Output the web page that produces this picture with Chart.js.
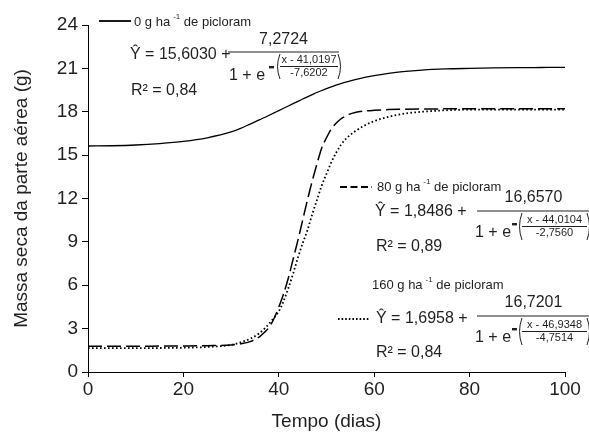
<!DOCTYPE html>
<html>
<head>
<meta charset="utf-8">
<script src="https://cdn.jsdelivr.net/npm/chart.js@4/dist/chart.umd.min.js"></script>
<style>
html,body{margin:0;padding:0;background:#fff;}
canvas{display:block;}
</style>
</head>
<body>
<canvas id="c" width="589" height="432"></canvas>
<script>
// ---- data ----
const days = [0,5,10,15,20,25,30,32,34,36,37,38,39,40,41,42,43,44,45,46,47,48,49,50,51,52,53,54,55,56,58,60,63,66,70,75,80,85,91,95,100];
const mass0 = [15.63,15.65,15.70,15.80,15.95,16.20,16.60,16.85,17.15,17.45,17.60,17.76,17.92,18.08,18.24,18.40,18.56,18.72,18.88,19.03,19.18,19.33,19.47,19.60,19.72,19.84,19.95,20.05,20.14,20.22,20.37,20.50,20.65,20.77,20.88,20.96,21.00,21.03,21.05,21.06,21.07];
const mass80 = [1.78,1.78,1.78,1.79,1.80,1.82,1.87,1.95,2.10,2.45,2.75,3.10,3.70,4.50,5.40,6.50,7.80,9.10,10.50,11.90,13.20,14.40,15.50,16.20,16.80,17.20,17.50,17.70,17.85,17.95,18.05,18.10,18.15,18.17,18.19,18.20,18.20,18.20,18.20,18.20,18.20];
const mass160 = [1.65,1.65,1.65,1.66,1.68,1.73,1.88,2.05,2.30,2.70,3.00,3.35,3.75,4.20,4.90,5.80,6.80,7.90,8.90,9.80,10.90,11.90,12.90,13.70,14.50,15.15,15.70,16.10,16.40,16.65,17.05,17.35,17.65,17.85,18.00,18.10,18.15,18.15,18.15,18.15,18.15];
const xTicks = [0,20,40,60,80,100];
const yTicks = [0,3,6,9,12,15,18,21,24];
const seriesNames = ['0 g ha', '80 g ha', '160 g ha'];
const eqConst = ['15,6030','1,8486','1,6958'];
const eqNum = ['7,2724','16,6570','16,7201'];
const eqXc = ['x - 41,0197','x - 44,0104','x - 46,9348'];
const eqB = ['-7,6202','-2,7560','-4,7514'];
const eqR2 = ['0,84','0,89','0,84'];

const FONT = '"Liberation Sans", Arial, sans-serif';
const INK = '#231f20';

function pts(ys){ return days.map((d,i)=>({x:d,y:ys[i]})); }

const styles = [
  {dash: [], width: 1.3},
  {dash: [14,5], width: 1.5},
  {dash: [1.6,2.4], width: 1.8}
];

const bgPlugin = {
  id: 'bg',
  beforeDraw(chart){
    const c = chart.ctx; c.save(); c.fillStyle = '#fff';
    c.fillRect(0,0,chart.width,chart.height); c.restore();
  }
};

function txt(c, s, x, y, size, align){
  c.font = size + 'px ' + FONT;
  c.textAlign = align || 'left';
  c.textBaseline = 'middle';
  c.fillText(s, x, y);
  return c.measureText(s).width;
}

function drawLabel(c, i, x, y){
  let w = txt(c, seriesNames[i], x, y, 13);
  txt(c, '-1', x + w + 3, y - 5, 8);
  c.font = '8px ' + FONT;
  const w2 = c.measureText('-1').width;
  txt(c, ' de picloram', x + w + 3 + w2, y, 13);
}

function drawSample(c, i, x1, x2, y){
  c.save();
  c.strokeStyle = '#000';
  c.lineWidth = 1.8;
  c.setLineDash(i === 0 ? [] : (i === 1 ? [7,3.5] : [1.6,2.0]));
  c.beginPath(); c.moveTo(x1, y); c.lineTo(x2, y); c.stroke();
  c.restore();
}

function drawEq(c, i, L){
  txt(c, '\u0176 = ' + eqConst[i] + ' +', L.yx, L.yy, 16);
  const mid = (L.barL + L.barR) / 2;
  txt(c, eqNum[i], mid, L.numY, 16, 'center');
  c.save();
  c.strokeStyle = INK; c.lineWidth = 1;
  c.beginPath(); c.moveTo(L.barL, L.barY); c.lineTo(L.barR, L.barY); c.stroke();
  c.restore();
  txt(c, '1 + e', L.denX, L.denY, 16);
  c.fillRect(L.minusX, L.minusY, 5, 2.4);
  c.save();
  c.strokeStyle = INK; c.lineWidth = 1;
  const pm = (L.parT + L.parB) / 2;
  c.beginPath(); c.moveTo(L.parL + 4, L.parT); c.quadraticCurveTo(L.parL - 1, pm, L.parL + 4, L.parB); c.stroke();
  c.beginPath(); c.moveTo(L.parR - 4, L.parT); c.quadraticCurveTo(L.parR + 1, pm, L.parR - 4, L.parB); c.stroke();
  const im = (L.parL + L.parR) / 2;
  c.beginPath(); c.moveTo(L.parL + 4, L.innerBarY); c.lineTo(L.parR - 4, L.innerBarY); c.stroke();
  c.restore();
  txt(c, eqXc[i], im, L.innerY1, 11, 'center');
  txt(c, eqB[i], im, L.innerY2, 11, 'center');
  txt(c, 'R\u00b2 = ' + eqR2[i], L.r2x, L.r2y, 16);
}

const annotPlugin = {
  id: 'annot',
  afterDraw(chart){
    const c = chart.ctx;
    c.save();
    c.fillStyle = INK;
    drawSample(c, 0, 99, 131, 21);
    drawLabel(c, 0, 134, 22);
    drawEq(c, 0, {yx:130, yy:55, barL:228, barR:339, barY:52, numY:40, denX:229, denY:76,
      minusX:269, minusY:66, parL:276, parR:342, parT:54, parB:79, innerY1:60, innerBarY:66.5, innerY2:72.5, r2x:131, r2y:91});
    drawSample(c, 1, 340, 372, 187);
    drawLabel(c, 1, 377, 187);
    drawEq(c, 1, {yx:375, yy:212, barL:477, barR:590, barY:211, numY:198, denX:475, denY:233,
      minusX:512, minusY:223, parL:518, parR:591, parT:213, parB:240, innerY1:220, innerBarY:226.5, innerY2:233, r2x:376, r2y:247});
    drawLabel(c, 2, 372, 285);
    drawSample(c, 2, 338, 370, 319);
    drawEq(c, 2, {yx:376, yy:319, barL:477, barR:590, barY:316, numY:303, denX:475, denY:338,
      minusX:512, minusY:328, parL:518, parR:591, parT:318, parB:345, innerY1:325, innerBarY:331.5, innerY2:338, r2x:376, r2y:353});
    c.restore();
  }
};

new Chart(document.getElementById('c'), {
  type: 'line',
  data: {
    datasets: [mass0, mass80, mass160].map((ys, i) => ({
      label: seriesNames[i],
      data: pts(ys),
      borderColor: '#000',
      borderWidth: styles[i].width,
      borderDash: styles[i].dash,
      pointRadius: 0,
      fill: false,
      cubicInterpolationMode: 'monotone'
    }))
  },
  options: {
    responsive: false,
    animation: false,
    layout: {padding: {top: 25, right: 24, left: 0, bottom: 0}},
    plugins: {legend: {display: false}, tooltip: {enabled: false}},
    scales: {
      x: {
        type: 'linear', min: 0, max: 100,
        afterBuildTicks: s => { s.ticks = xTicks.map(v => ({value: v})); },
        afterFit: s => { s.height = 60; },
        ticks: {font: {family: FONT, size: 19}, color: INK, padding: 1, maxRotation: 0},
        grid: {drawOnChartArea: false, drawTicks: true, tickLength: 5, color: '#000'},
        border: {display: true, color: '#000', width: 1},
        title: {display: true, text: 'Tempo (dias)', color: INK,
          font: {family: FONT, size: 19, lineHeight: 1}, padding: {top: 0, bottom: 0.5}}
      },
      y: {
        min: 0, max: 24,
        afterBuildTicks: s => { s.ticks = yTicks.map(v => ({value: v})); },
        afterFit: s => { s.width = 88; },
        ticks: {font: {family: FONT, size: 19}, color: INK, padding: 4},
        grid: {drawOnChartArea: false, drawTicks: true, tickLength: 6, color: '#000'},
        border: {display: true, color: '#000', width: 1},
        title: {display: true, text: 'Massa seca da parte aérea (g)', color: INK,
          font: {family: FONT, size: 19, lineHeight: 1}, padding: {top: 12.5, bottom: 0}}
      }
    }
  },
  plugins: [bgPlugin, annotPlugin]
});
</script>
</body>
</html>
